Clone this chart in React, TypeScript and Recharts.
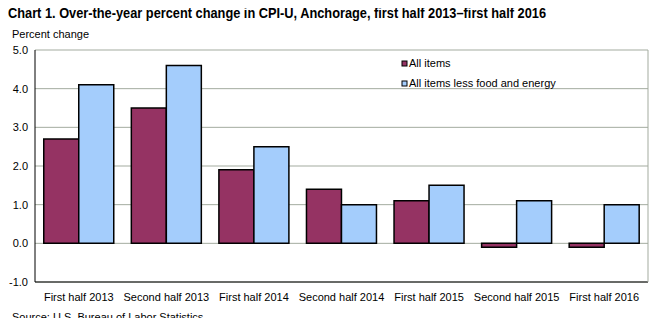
import React from 'react';
import { BarChart, Bar, XAxis, YAxis, CartesianGrid } from 'recharts';

const periods = [
  'First half 2013',
  'Second half 2013',
  'First half 2014',
  'Second half 2014',
  'First half 2015',
  'Second half 2015',
  'First half 2016',
];
const allItems = [2.7, 3.5, 1.9, 1.4, 1.1, -0.1, -0.1];
const coreItems = [4.1, 4.6, 2.5, 1.0, 1.5, 1.1, 1.0];
const yTicks = [-1, 0, 1, 2, 3, 4, 5];

const MAROON = '#953363';
const LIGHT_BLUE = '#a4cdfc';
const FONT = '"Liberation Sans", Arial, sans-serif';

const data = periods.map((p, i) => ({ period: p, all: allItems[i], core: coreItems[i] }));

export default function App() {
  return (
    <div style={{ position: 'relative', width: 659, height: 326, margin: -8, background: '#fff', fontFamily: FONT, overflow: 'hidden' }}>
      <BarChart
        width={659}
        height={326}
        data={data}
        margin={{ top: 50, right: 11, bottom: 14, left: 0 }}
        barCategoryGap="10%"
        barGap={0}
      >
        <CartesianGrid vertical={false} stroke="#a3ab9f" />
        <XAxis
          dataKey="period"
          height={30}
          axisLine={{ stroke: '#000' }}
          tickLine={false}
          tick={{ fill: '#000', fontSize: 11, fontFamily: FONT }}
          tickMargin={5}
          interval={0}
        />
        <YAxis
          domain={[-1, 5]}
          ticks={yTicks}
          width={35}
          axisLine={{ stroke: '#000' }}
          tickLine={false}
          tickFormatter={(v: number) => (v < 0 ? '-' : '') + Math.abs(v).toFixed(1)}
          tick={{ fill: '#000', fontSize: 11, fontFamily: FONT }}
          tickMargin={1}
        />
        <Bar dataKey="all" fill={MAROON} stroke="#000" strokeWidth={1.5} isAnimationActive={false} />
        <Bar dataKey="core" fill={LIGHT_BLUE} stroke="#000" strokeWidth={1.5} isAnimationActive={false} />
      </BarChart>
      <svg width={659} height={326} style={{ position: 'absolute', left: 0, top: 0, pointerEvents: 'none' }}>
        <line x1={648} y1={50} x2={648} y2={282} stroke="#a3ab9f" />
        <text x={8} y={18} fontSize={15} fontWeight="bold" fontFamily={FONT} textLength={538} lengthAdjust="spacingAndGlyphs">
          Chart 1. Over-the-year percent change in CPI-U, Anchorage, first  half 2013–first  half 2016
        </text>
        <text x={12} y={38} fontSize={11} fontFamily={FONT}>Percent change</text>
        <rect x={402} y={61} width={5} height={5} fill={MAROON} stroke="#000" />
        <text x={409} y={67} fontSize={11} fontFamily={FONT}>All items</text>
        <rect x={402} y={81} width={5} height={5} fill={LIGHT_BLUE} stroke="#000" />
        <text x={409} y={87} fontSize={11} fontFamily={FONT}>All items less food and energy</text>
        <text x={12} y={321} fontSize={11} fontFamily={FONT}>Source: U.S. Bureau of Labor Statistics.</text>
      </svg>
    </div>
  );
}
